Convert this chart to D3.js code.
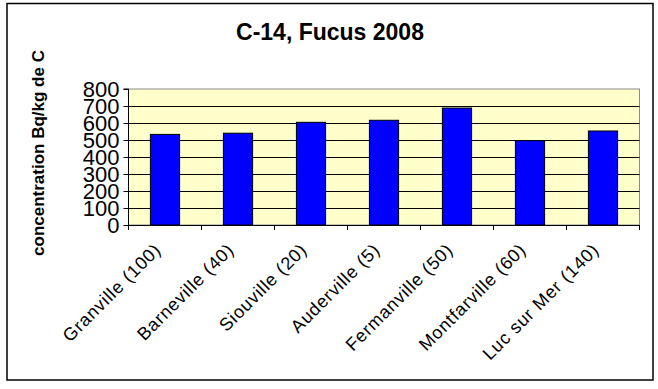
<!DOCTYPE html>
<html>
<head>
<meta charset="utf-8">
<script src="https://cdn.jsdelivr.net/npm/d3@7"></script>
<style>
  html, body { margin: 0; padding: 0; background: #fff; }
  svg { display: block; font-family: Arial, "Liberation Sans", sans-serif; }
</style>
</head>
<body>
<svg id="chart"></svg>
<script>
// données
const sites = ["Granville (100)", "Barneville (40)", "Siouville (20)", "Auderville (5)",
  "Fermanville (50)", "Montfarville (60)", "Luc sur Mer (140)"];
const c14 = [533, 540, 604, 616, 688, 496, 553];
const yTicks = [0, 100, 200, 300, 400, 500, 600, 700, 800];

const width = 658;
const height = 389;
const plot = { left: 128.5, top: 89, right: 639.5, bottom: 225 };

const svg = d3.select("#chart")
  .attr("width", width)
  .attr("height", height);

// cadre extérieur
svg.append("rect")
  .attr("x", 7).attr("y", 3.5)
  .attr("width", 646).attr("height", 376.5)
  .attr("fill", "#fff")
  .attr("stroke", "#000")
  .attr("stroke-width", 1.5);

const x = d3.scaleBand()
  .domain(sites)
  .range([plot.left, plot.right])
  .paddingInner(0.6)
  .paddingOuter(0.3);

const y = d3.scaleLinear()
  .domain([0, 800])
  .range([plot.bottom, plot.top]);

// fond de la zone de tracé
svg.append("rect")
  .attr("x", plot.left).attr("y", plot.top)
  .attr("width", plot.right - plot.left)
  .attr("height", plot.bottom - plot.top)
  .attr("fill", "#ffffcc")
  .attr("stroke", "#8c8c8c")
  .attr("stroke-width", 1);

// quadrillage
svg.append("g")
  .selectAll("line")
  .data(yTicks.filter(d => d > 0 && d < 800))
  .enter()
  .append("line")
  .attr("x1", plot.left).attr("x2", plot.right)
  .attr("y1", d => Math.round(y(d)) + 0.5)
  .attr("y2", d => Math.round(y(d)) + 0.5)
  .attr("stroke", "#000")
  .attr("stroke-width", 1);

// barres
svg.selectAll(".bar")
  .data(c14)
  .enter()
  .append("rect")
  .attr("class", "bar")
  .attr("x", (d, i) => x(sites[i]))
  .attr("y", d => y(d))
  .attr("width", x.bandwidth())
  .attr("height", d => y(0) - y(d))
  .attr("fill", "#0000ff")
  .attr("stroke", "#000")
  .attr("stroke-width", 1);

// axe Y
const yAxis = d3.axisLeft(y).tickValues(yTicks).tickSize(5).tickPadding(4);
const gy = svg.append("g")
  .attr("transform", `translate(${plot.left}, 0)`)
  .call(yAxis);
gy.select(".domain").attr("stroke", "#000").attr("d", `M-5,${plot.top}H0V${plot.bottom}`);
gy.selectAll(".tick text")
  .attr("font-size", 22)
  .attr("font-family", "Arial, 'Liberation Sans', sans-serif")
  .attr("fill", "#000")
  .attr("dy", "0.36em");

// axe X : traits aux limites des catégories
const step = x.step();
const bounds = d3.range(sites.length + 1).map(k => plot.left + k * step);
const gx = svg.append("g");
gx.append("line")
  .attr("x1", plot.left).attr("x2", plot.right)
  .attr("y1", plot.bottom + 0.5).attr("y2", plot.bottom + 0.5)
  .attr("stroke", "#000");
gx.selectAll(".xtick")
  .data(bounds)
  .enter()
  .append("line")
  .attr("x1", d => d).attr("x2", d => d)
  .attr("y1", plot.bottom).attr("y2", plot.bottom + 5)
  .attr("stroke", "#000");

gx.selectAll(".xlabel")
  .data(sites)
  .enter()
  .append("text")
  .attr("text-anchor", "end")
  .attr("font-size", 18)
  .attr("letter-spacing", 0.8)
  .attr("fill", "#000")
  .attr("transform", d => `translate(${x(d) + x.bandwidth() / 2 - 3}, ${plot.bottom + 26}) rotate(-45)`)
  .text(d => d);

// titre
svg.append("text")
  .attr("x", 330).attr("y", 40)
  .attr("text-anchor", "middle")
  .attr("font-size", 23)
  .attr("font-weight", "bold")
  .text("C-14, Fucus 2008");

// titre de l'axe Y
svg.append("text")
  .attr("transform", "translate(44, 153) rotate(-90)")
  .attr("text-anchor", "middle")
  .attr("font-size", 17)
  .attr("font-weight", "bold")
  .text("concentration Bq/kg de C");
</script>
</body>
</html>
